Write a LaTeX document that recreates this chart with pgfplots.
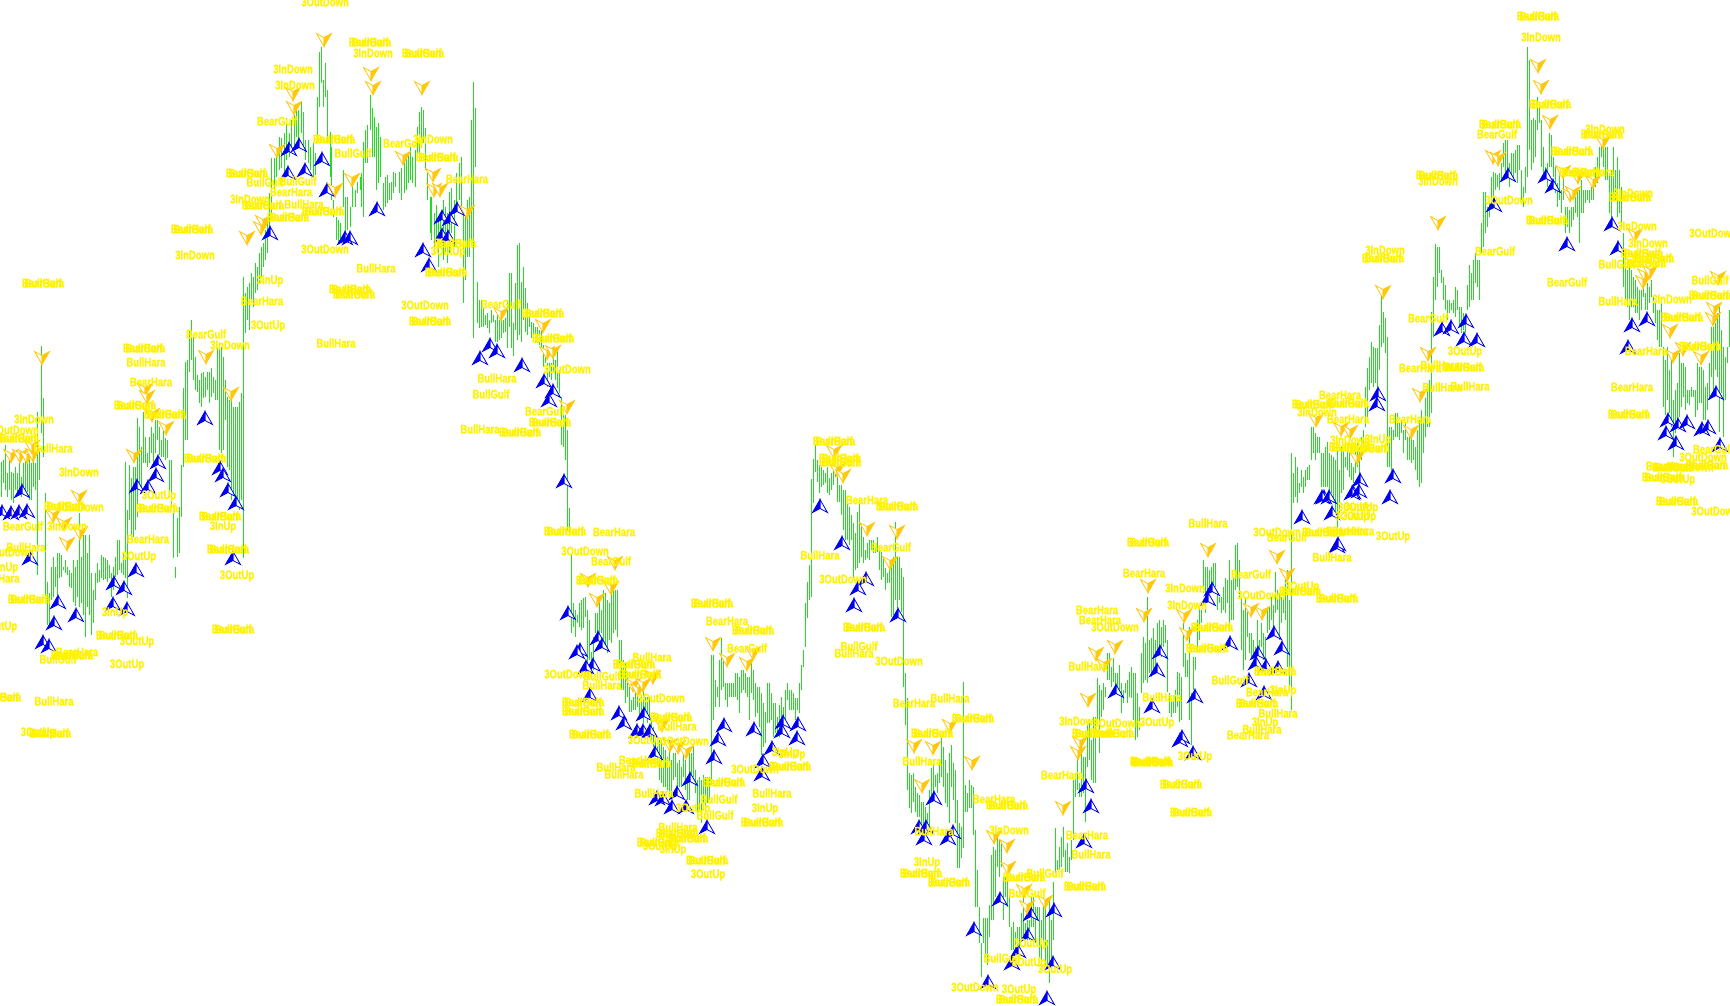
\documentclass[border=0pt]{standalone}
\usepackage{fontspec}
\usepackage{pgfplots}
\usepackage{pgfplotstable}
\pgfplotsset{compat=1.18}
\newfontfamily\labfont[FakeStretch=0.76,FakeBold=1.2]{Liberation Sans Bold}
\definecolor{bargreen}{HTML}{22DD22}
\definecolor{upblue}{HTML}{0000F0}
\definecolor{downorange}{HTML}{FFC80A}

% arrows, 15 x 13 px; one half solid, the other an outline
\pgfdeclareplotmark{upa}{%
  \pgfsetlinewidth{0.8pt}\pgfsetmiterjoin
  \pgfsetstrokecolor{upblue}%
  \pgfsetfillcolor{white}%
  \pgfpathmoveto{\pgfpoint{0pt}{6.5pt}}\pgfpathlineto{\pgfpoint{7.5pt}{-6.5pt}}\pgfpathlineto{\pgfpoint{0pt}{-2.5pt}}\pgfpathclose\pgfusepath{fill,stroke}%
  \pgfsetfillcolor{upblue}%
  \pgfpathmoveto{\pgfpoint{0pt}{6.5pt}}\pgfpathlineto{\pgfpoint{-7.5pt}{-6.5pt}}\pgfpathlineto{\pgfpoint{0pt}{-2.5pt}}\pgfpathclose\pgfusepath{fill,stroke}%
}
\pgfdeclareplotmark{downa}{%
  \pgfsetlinewidth{0.8pt}\pgfsetmiterjoin
  \pgfsetstrokecolor{downorange}%
  \pgfsetfillcolor{white}%
  \pgfpathmoveto{\pgfpoint{0pt}{-6.5pt}}\pgfpathlineto{\pgfpoint{-7.5pt}{6.5pt}}\pgfpathlineto{\pgfpoint{0pt}{2.5pt}}\pgfpathclose\pgfusepath{fill,stroke}%
  \pgfsetfillcolor{downorange}%
  \pgfpathmoveto{\pgfpoint{0pt}{-6.5pt}}\pgfpathlineto{\pgfpoint{7.5pt}{6.5pt}}\pgfpathlineto{\pgfpoint{0pt}{2.5pt}}\pgfpathclose\pgfusepath{fill,stroke}%
}

% high-low bars, read off 3x crops: x top bottom in crop units
\pgfplotstableread[row sep=crcr]{
x t b\\
4 365 470\\10 360 430\\16 315 450\\22 400 470\\28 340 450\\34 395 480\\40 400 490\\46 380 450\\52 400 465\\58 370 450\\
64 410 470\\70 370 440\\76 355 460\\82 345 455\\88 350 480\\94 370 480\\100 350 440\\106 370 450\\112 215 705\\118 330 420\\
124 18 280\\130 175 350\\136 460 780\\142 725 855\\148 760 855\\154 680 780\\160 650 770\\166 680 740\\172 640 765\\178 640 715\\
184 645 710\\190 680 690\\196 660 700\\202 680 705\\208 690 740\\214 700 745\\220 660 785\\226 680 797\\232 660 770\\238 520 800\\
244 650 790\\250 585 825\\256 585 890\\262 640 800\\268 585 825\\274 700 885\\280 750 850\\286 700 780\\292 670 730\\298 690 725\\
304 645 715\\310 650 720\\316 655 718\\322 660 725\\328 675 715\\334 700 770\\340 680 750\\346 650 710\\352 600 705\\358 600 690\\
364 670 700\\370 640 705\\376 365 715\\382 510 775\\388 375 540\\394 415 600\\400 380 590\\406 380 570\\412 235 530\\418 260 430\\
424 320 460\\430 215 370\\436 290 370\\442 340 380\\448 290 370\\454 260 340\\460 280 370\\466 240 340\\472 240 300\\478 260 345\\
484 300 350\\490 260 350\\496 295 360\\502 300 355\\508 360 470\\514 360 505\\520 520 655\\526 680 715\\532 535 650\\538 500 640\\
544 375 530\\550 145 380\\556 65 300\\562 60 300\\568 -30 95\\574 -60 60\\580 -10 120\\586 50 150\\592 105 155\\598 120 190\\
604 100 200\\610 95 175\\616 110 170\\622 95 150\\628 95 190\\634 85 170\\640 110 160\\646 120 180\\652 25 180\\658 15 330\\
664 20 340\\670 50 330\\676 120 240\\682 170 380\\688 180 390\\694 180 480\\700 200 460\\706 200 500\\712 200 500\\718 185 510\\
724 160 480\\730 -190 655\\
}\tA
\pgfplotstableread[row sep=crcr]{
x t b\\
46 880 1000\\52 860 960\\58 850 990\\64 820 900\\70 830 920\\76 790 880\\82 800 870\\88 760 850\\94 740 830\\100 730 800\\
106 690 780\\112 660 760\\118 580 700\\125 475 640\\133 475 570\\140 450 530\\148 410 510\\155 415 505\\163 400 520\\170 355 480\\
178 400 470\\185 360 450\\192 345 440\\198 320 410\\205 330 430\\213 305 400\\220 335 440\\227 420 480\\234 420 490\\242 440 510\\
250 430 530\\256 460 525\\262 290 410\\268 155 320\\275 140 250\\280 240 320\\286 190 290\\293 270 430\\300 395 530\\305 440 600\\
311 600 650\\318 650 720\\325 660 730\\332 670 720\\340 510 620\\346 590 710\\353 590 690\\360 620 680\\367 530 620\\375 570 620\\
382 545 580\\390 530 570\\395 520 620\\401 425 650\\407 390 490\\413 375 490\\420 285 390\\426 325 470\\432 350 470\\438 380 570\\
444 370 550\\450 410 530\\460 550 630\\467 530 620\\472 525 610\\478 550 600\\485 545 600\\490 515 580\\497 520 560\\508 515 580\\
515 505 600\\522 480 580\\528 470 570\\535 455 550\\542 440 540\\548 470 550\\555 450 560\\561 380 470\\568 335 470\\575 320 445\\
580 330 430\\587 385 510\\593 520 600\\600 590 700\\605 590 720\\612 640 760\\620 615 730\\626 650 800\\632 640 720\\640 600 780\\
646 620 760\\652 640 790\\658 575 760\\665 565 700\\672 600 740\\680 520 620\\688 490 600\\695 470 620\\699 640 910\\705 640 840\\
711 600 770\\717 590 770\\723 360 720\\730 245 1014\\737 325 500\\
}\tB
\pgfplotstableread[row sep=crcr]{
x t b\\
232 155 280\\238 210 295\\244 210 290\\250 230 290\\256 255 285\\262 250 295\\268 270 310\\274 240 280\\280 255 275\\286 270 335\\
292 240 335\\298 270 330\\304 270 325\\310 270 310\\316 265 305\\322 210 355\\328 130 290\\334 130 355\\340 280 378\\346 160 300\\
352 45 330\\358 40 315\\364 155 335\\370 110 270\\376 175 305\\382 220 315\\388 260 290\\394 275 325\\400 278 330\\406 290 340\\
412 290 340\\418 300 345\\424 300 355\\430 345 410\\436 370 400\\442 400 470\\448 400 440\\454 400 450\\460 360 430\\466 390 450\\
472 355 475\\478 420 490\\484 500 645\\490 540 650\\496 555 690\\502 600 900\\508 835 909\\
}\tC
\pgfplotstableread[row sep=crcr]{
x t b\\
124 105 340\\130 250 320\\136 270 350\\142 285 310\\148 250 320\\154 240 330\\160 235 325\\166 230 290\\172 270 430\\178 300 420\\
184 395 470\\190 350 450\\196 280 340\\202 280 340\\208 235 350\\214 270 340\\220 210 370\\226 220 380\\232 240 400\\238 250 360\\
244 220 370\\250 210 340\\256 210 330\\262 210 350\\268 360 430\\274 360 510\\280 420 510\\286 430 550\\292 470 530\\298 500 575\\
304 540 575\\310 530 570\\316 520 570\\322 510 560\\328 530 600\\334 530 590\\340 490 610\\346 530 590\\352 530 610\\358 530 600\\
364 600 660\\370 620 680\\376 640 710\\382 650 720\\388 660 780\\394 660 790\\400 680 800\\406 690 800\\412 710 810\\418 660 830\\
424 720 830\\430 700 780\\436 700 770\\442 730 800\\448 720 800\\454 740 800\\460 690 770\\466 720 810\\472 770 840\\478 680 840\\
484 700 770\\490 680 770\\496 750 820\\502 780 880\\508 770 870\\514 780 910\\520 765 870\\526 770 860\\532 770 850\\538 770 840\\
544 405 790\\550 405 600\\556 480 560\\562 500 530\\568 420 560\\574 355 510\\580 420 500\\586 490 540\\592 490 560\\598 490 530\\
604 490 530\\610 490 530\\616 460 530\\622 460 540\\628 470 580\\634 450 520\\640 450 510\\646 460 520\\652 470 530\\658 470 600\\
664 430 520\\670 450 540\\676 490 590\\682 500 580\\688 500 620\\694 520 705\\700 550 680\\706 575 670\\712 490 610\\718 490 610\\
724 520 600\\730 550 650\\736 550 640\\742 590 650\\748 555 650\\754 530 620\\760 560 620\\766 510 600\\772 490 540\\778 510 570\\
784 510 570\\790 520 570\\796 535 600\\802 535 570\\808 490 580\\814 435 510\\820 390 440\\826 250 380\\832 185 295\\838 135 240\\
}\tD
\pgfplotstableread[row sep=crcr]{
x t b\\
94 178 530\\100 118 250\\106 75 155\\112 120 185\\118 135 218\\124 140 200\\130 150 195\\136 160 190\\142 140 220\\148 175 225\\
154 160 210\\160 130 195\\166 125 170\\172 170 245\\178 195 245\\184 195 285\\190 210 330\\196 210 360\\202 250 360\\208 260 375\\
214 285 360\\220 310 475\\226 340 450\\232 275 445\\238 240 430\\244 310 410\\250 350 430\\256 390 420\\262 370 415\\268 360 420\\
274 360 390\\280 360 400\\286 380 400\\292 350 395\\298 390 450\\304 395 480\\310 410 470\\316 445 510\\322 460 490\\328 440 490\\
334 430 590\\340 410 585\\346 305 540\\352 410 565\\358 410 540\\364 445 575\\370 470 800\\
}\tE
\pgfplotstableread[row sep=crcr]{
x t b\\
76 -21 135\\82 55 330\\88 280 385\\94 285 400\\100 280 365\\106 320 395\\112 340 410\\118 345 410\\124 365 440\\130 365 440\\
136 380 440\\142 400 460\\148 330 440\\154 265 350\\160 255 340\\166 285 320\\172 280 340\\178 240 310\\184 175 290\\190 200 320\\
196 240 370\\202 280 380\\208 220 430\\214 195 320\\220 250 360\\226 270 430\\232 360 565\\238 430 565\\244 440 535\\250 5 505\\
256 315 395\\262 340 395\\268 300 385\\274 315 385\\280 320 465\\286 450 680\\292 570 680\\298 680 790\\304 790 890\\310 715 790\\
316 715 830\\322 715 855\\328 675 770\\334 525 720\\340 500 720\\346 510 650\\352 465 560\\358 480 590\\364 490 560\\370 590 720\\
376 590 650\\382 600 680\\388 640 740\\394 740 810\\400 725 810\\406 755 810\\412 740 800\\418 740 800\\424 700 780\\430 640 780\\
436 730 780\\442 720 780\\448 720 780\\454 650 740\\460 650 740\\466 680 790\\472 680 720\\478 680 830\\484 720 840\\490 640 800\\
496 660 860\\502 780 860\\508 650 910\\514 720 860\\520 605 780\\526 445 580\\532 540 570\\538 500 570\\544 470 560\\550 440 530\\
556 510 575\\562 490 575\\568 530 580\\574 480 540\\580 300 480\\586 290 350\\592 235 330\\598 310 350\\604 180 350\\610 230 340\\
616 230 425\\622 130 260\\628 130 240\\634 180 300\\640 110 310\\646 110 310\\
}\tF
\pgfplotstableread[row sep=crcr]{
x t b\\
112 595 720\\118 615 820\\124 630 710\\130 610 690\\136 620 650\\142 520 600\\148 520 600\\154 560 620\\160 535 605\\166 580 620\\
172 580 640\\178 555 630\\184 610 700\\190 630 670\\196 610 640\\202 600 670\\208 575 650\\214 560 655\\220 580 720\\226 580 780\\
232 640 770\\238 680 750\\244 520 640\\250 470 610\\256 490 600\\262 350 610\\268 480 580\\274 475 590\\280 445 570\\286 480 560\\
292 430 510\\298 420 510\\304 440 530\\310 420 500\\316 435 490\\322 480 635\\328 640 700\\334 650 710\\340 660 700\\346 630 700\\
352 575 680\\358 580 725\\364 590 720\\370 430 560\\376 520 590\\382 540 590\\388 440 720\\394 640 795\\400 530 630\\406 530 570\\
412 420 510\\418 385 480\\424 390 430\\430 240 340\\436 260 400\\442 260 370\\448 270 340\\454 260 340\\460 250 320\\466 250 320\\
472 340 390\\478 350 370\\484 350 400\\490 320 390\\496 295 400\\502 300 370\\508 240 450\\514 300 420\\520 290 420\\526 195 330\\
532 190 320\\538 240 350\\544 350 510\\550 390 570\\556 350 540\\562 395 470\\568 460 520\\574 460 530\\580 480 560\\586 500 570\\
592 420 520\\598 480 530\\604 430 500\\610 460 540\\616 470 560\\622 380 460\\628 380 450\\634 350 420\\640 375 450\\646 275 400\\
652 330 390\\658 340 480\\664 350 430\\670 340 400\\676 300 420\\682 270 560\\688 360 630\\
}\tG
\pgfplotstableread[row sep=crcr]{
x t b\\
34 700 1470\\40 760 850\\46 710 830\\52 740 850\\58 790 820\\64 750 800\\70 770 820\\76 750 800\\82 740 780\\88 735 780\\
94 620 720\\100 620 700\\106 640 720\\112 650 700\\118 650 700\\124 700 800\\130 700 800\\136 680 800\\142 665 800\\148 700 830\\
154 705 820\\160 710 850\\166 720 880\\172 690 925\\178 750 880\\184 680 820\\190 690 810\\196 710 740\\202 690 750\\208 700 770\\
214 730 780\\220 740 790\\226 680 760\\232 670 740\\238 680 780\\244 650 720\\250 630 690\\256 500 620\\262 445 600\\268 410 510\\
274 365 490\\280 380 500\\286 385 490\\292 385 500\\298 315 450\\304 225 380\\310 275 370\\316 295 400\\322 350 740\\328 620 740\\
334 620 770\\340 630 660\\346 580 650\\352 580 650\\358 610 660\\364 600 640\\370 630 700\\376 610 660\\382 650 720\\388 650 720\\
394 650 730\\400 660 720\\406 680 750\\412 630 780\\418 600 800\\424 570 790\\430 600 700\\436 535 650\\442 490 620\\448 480 620\\
454 275 580\\460 170 350\\466 72 240\\472 80 200\\478 80 160\\484 150 190\\490 170 240\\496 195 270\\502 240 300\\508 240 280\\
514 250 270\\520 240 280\\526 200 290\\532 210 270\\538 260 320\\544 260 340\\550 280 330\\556 290 340\\562 195 270\\568 135 260\\
574 160 240\\580 120 240\\586 100 190\\592 120 200\\
}\tH
\pgfplotstableread[row sep=crcr]{
x t b\\
238 780 900\\244 670 760\\250 575 740\\256 575 700\\262 620 680\\268 610 650\\274 530 600\\280 515 590\\286 520 570\\292 525 560\\
298 520 570\\304 490 545\\310 430 500\\316 420 520\\322 420 530\\328 490 560\\334 460 540\\340 460 540\\346 450 520\\352 435 550\\
358 435 510\\364 510 600\\370 560 620\\376 500 580\\382 140 530\\388 180 450\\394 360 510\\400 355 490\\406 360 470\\412 290 390\\
418 325 370\\424 360 500\\430 440 520\\436 500 530\\442 490 560\\448 400 500\\454 405 500\\460 470 530\\466 500 580\\472 550 620\\
478 520 600\\484 570 640\\490 530 600\\496 620 700\\502 620 680\\508 630 700\\514 620 680\\520 620 660\\526 590 640\\532 570 650\\
538 570 730\\544 540 640\\550 570 640\\556 570 610\\562 570 600\\568 570 610\\574 560 600\\580 560 600\\586 500 560\\592 470 550\\
598 440 520\\604 420 470\\610 420 500\\616 440 540\\622 440 540\\628 520 640\\634 510 650\\640 440 600\\646 510 600\\652 470 650\\
658 510 640\\664 560 680\\670 700 860\\
}\tI
\pgfplotstableread[row sep=crcr]{
x t b\\
196 70 210\\202 120 230\\208 100 270\\214 120 230\\220 140 230\\226 150 250\\232 170 250\\238 180 270\\244 180 240\\250 150 200\\
256 190 240\\262 160 240\\268 170 220\\274 150 200\\280 200 250\\286 220 280\\292 240 330\\298 240 350\\304 220 350\\310 350 530\\
316 390 555\\322 350 510\\328 420 550\\334 390 590\\340 510 680\\346 480 610\\352 460 590\\358 370 560\\364 400 530\\370 400 500\\
376 410 540\\382 480 520\\388 480 525\\394 470 500\\400 480 500\\406 480 560\\412 400 540\\418 410 520\\424 410 520\\430 420 570\\
436 470 570\\442 460 540\\448 400 510\\454 290 440\\460 290 500\\466 280 420\\472 250 440\\478 230 605\\484 300 490\\490 350 620\\
496 380 510\\502 350 400\\508 240 350\\
}\tJ

% single labels, pixel centres
\pgfplotstableread[row sep=crcr]{
x y t\\
146 362 BullHara\\151 382 BearHara\\34 419 3InDown\\15 430 3OutDown\\53 448 BullHara\\79 472 3InDown\\159 496 3OutUp\\80 507 3OutDown\\
23 526 BearGulf\\67 526 3InDown\\148 539 BearHara\\223 527 3InUp\\26 547 BullHara\\10 552 3OutDown\\139 557 3OutUp\\237 576 3OutUp\\
5 568 3InUp\\0 578 BullHara\\0 627 3OutUp\\137 642 3OutUp\\77 652 BearHara\\58 659 BullGulf\\127 665 3OutUp\\115 613 3InUp\\
54 701 BullHara\\38 733 3OutUp\\325 2 3OutDown\\373 53 3InDown\\293 69 3InDown\\295 85 3InDown\\277 121 BearGulf\\353 153 BullGulf\\
403 143 BearGulf\\433 139 3InDown\\467 179 BearHara\\265 182 BullGulf\\298 181 BullGulf\\291 192 BearHara\\250 199 3InDown\\304 204 BullHara\\
448 252 3OutUp\\425 305 3OutDown\\501 304 BearGulf\\567 369 3OutDown\\497 378 BullHara\\491 394 BullGulf\\545 411 BearGulf\\480 429 BullHara\\
325 249 3OutDown\\376 268 BullHara\\336 343 BullHara\\270 281 3InUp\\262 301 BearHara\\268 326 3OutUp\\206 334 BearGulf\\230 345 3InDown\\195 255 3InDown\\
614 532 BearHara\\585 551 3OutDown\\611 561 BearGulf\\727 621 BearHara\\747 648 BearGulf\\652 657 BullHara\\568 674 3OutDown\\602 676 BullGulf\\
602 685 BullHara\\661 698 3OutDown\\677 726 BullHara\\645 741 3OutUp\\685 741 3OutDown\\640 760 BearHara\\616 767 BullHara\\624 774 BullHara\\
755 769 3OutDown\\792 755 3InUp\\785 753 3InUp\\654 793 BullHara\\772 793 BullHara\\719 799 BullGulf\\693 809 3OutUp\\765 809 3InUp\\
715 815 BullGulf\\678 827 BullHara\\660 847 3OutUp\\673 850 3InUp\\708 875 3OutUp\\820 555 BullHara\\843 579 3OutDown\\867 500 BearHara\\
891 547 BearGulf\\859 646 BullGulf\\854 653 BullHara\\899 661 3OutDown\\914 703 BearHara\\950 698 BullHara\\922 761 BullHara\\994 799 BearHara\\
1009 830 3InDown\\934 831 BullHara\\927 863 3InUp\\1045 873 BullGulf\\1027 893 BullGulf\\1087 835 BearHara\\1091 854 BullHara\\1062 775 BearHara\\
1079 721 3InDown\\1117 723 3OutDown\\1157 723 3OutUp\\1162 697 BullHara\\1031 944 3OutUp\\1002 958 BullGulf\\1029 963 3OutUp\\1055 970 3OutUp\\
975 987 3OutDown\\1019 990 3OutUp\\1208 523 BullHara\\1144 573 BearHara\\1185 588 3InDown\\1187 605 3InDown\\1097 610 BearHara\\1100 620 BearHara\\
1115 627 3OutDown\\1088 666 BullHara\\1251 574 BearGulf\\1261 595 3OutDown\\1302 587 3OutUp\\1277 532 3OutDown\\1287 537 BearGulf\\1347 531 BearHara\\
1355 508 3OutUp\\1352 517 3OutUp\\1332 557 BullHara\\1230 680 BullGulf\\1267 692 BearHara\\1283 691 3InUp\\1278 713 BullHara\\1265 723 3InUp\\
1262 729 BullHara\\1248 735 BearHara\\1195 757 3OutUp\\1385 250 3InDown\\1428 318 BearGulf\\1465 352 3OutUp\\1440 365 BullHara\\1420 368 BearHara\\
1442 387 BullHara\\1470 386 BullHara\\1340 395 BearHara\\1317 412 3InDown\\1348 419 BearHara\\1410 419 BearHara\\1350 440 3InDown\\1378 440 3InUp\\
1361 508 3OutUp\\1359 517 3OutUp\\1353 531 BearHara\\1393 537 3OutUp\\1541 37 3InDown\\1497 134 BearGulf\\1438 181 3InDown\\1605 129 3InDown\\
1509 200 3OutDown\\1593 172 BearHara\\1633 193 3InDown\\1637 226 3InDown\\1648 243 3InDown\\1713 233 3OutDown\\1495 251 BearGulf\\1617 264 BullGulf\\
1567 282 BearGulf\\1710 280 BullGulf\\1672 299 3InDown\\1618 301 BullHara\\1646 351 BearHara\\1632 387 BearHara\\1713 449 BearGulf\\1703 457 3OutDown\\
1667 466 BearHara\\1690 467 3OutDown\\1678 480 3OutUp\\1715 511 3OutDown\\
}\tSingle
% places where two labels lie on top of each other
\pgfplotstableread[row sep=crcr]{
x y\\
144 348\\135 405\\165 414\\18 438\\205 458\\157 508\\65 506\\220 516\\228 549\\29 599\\233 629\\117 635\\72 655\\0 697\\50 733\\
370 42\\423 53\\334 139\\437 157\\247 173\\263 205\\323 211\\288 217\\455 243\\446 272\\430 321\\543 313\\553 338\\550 422\\520 432\\
350 289\\354 294\\192 229\\43 283\\565 531\\597 580\\712 603\\753 630\\634 664\\640 674\\583 702\\583 711\\671 717\\590 734\\650 763\\
790 766\\724 782\\762 822\\677 833\\687 838\\658 842\\707 860\\834 441\\840 458\\840 462\\897 506\\864 627\\973 718\\932 733\\1007 805\\921 873\\
949 882\\1024 877\\1085 886\\1093 733\\1113 733\\1152 762\\1181 784\\1191 812\\1017 999\\1148 542\\1212 627\\1207 648\\1300 591\\1337 598\\1323 532\\
1275 671\\1257 703\\1151 761\\1383 258\\1463 367\\1313 404\\1348 403\\1368 448\\1350 447\\1538 16\\1500 124\\1550 104\\1437 175\\1602 134\\1572 151\\
1580 172\\1547 220\\1630 197\\1642 253\\1653 258\\1645 263\\1710 295\\1682 317\\1700 346\\1629 414\\1707 465\\1673 467\\1663 477\\1677 501\\
}\tBlob

\newcommand{\bars}[3]{\addplot[draw=none,forget plot,
    error bars/.cd,y dir=plus,y explicit,error mark=none,
    error bar style={draw=bargreen,line width=1pt}]
  table[x expr=#1+\thisrow{x}/3,y expr=#2+\thisrow{t}/3,y error expr=(\thisrow{b}-\thisrow{t})/3] {#3};}

\begin{document}
\begin{tikzpicture}
\useasboundingbox (0,0) rectangle (1730pt,1005pt);
\begin{axis}[
    at={(0,0)},anchor=south west,
    width=1730pt,height=1005pt,scale only axis,
    xmin=0,xmax=1730,ymin=0,ymax=1005,y dir=reverse,
    hide axis,clip=false,
    nodes near coords style={font=\fontsize{12.5}{12.5}\labfont,text=yellow,anchor=center,inner sep=0pt,outer sep=0pt},
    ]
\bars{0}{340}{\tA}
\bars{230}{0}{\tB}
\bars{400}{230}{\tC}
\bars{530}{520}{\tD}
\bars{780}{420}{\tE}
\bars{880}{680}{\tF}
\bars{1060}{480}{\tG}
\bars{1280}{220}{\tH}
\bars{1400}{0}{\tI}
\bars{1560}{230}{\tJ}
\addplot[only marks,mark=upa] coordinates {
(22,491)(2,512)(11,513)(19,512)(27,511)(30,558)(158,462)(156,475)(137,486)(148,487)(136,570)(205,418)(220,468)(223,475)(228,490)(236,503)(233,558)
(58,602)(54,623)(76,615)(43,642)(49,646)(114,583)(124,588)(113,604)(127,609)
(289,149)(299,145)(288,173)(305,170)(322,159)(327,190)(270,233)(377,209)(345,238)(350,238)(442,217)(450,219)(457,209)(442,235)(448,237)
(423,250)(429,265)(490,345)(497,351)(480,358)(522,365)(544,381)(553,391)(549,400)(564,481)
(568,613)(580,650)(577,652)(598,638)(602,645)(593,665)(586,667)(590,695)(619,713)(624,723)(637,731)(643,731)(650,731)(644,714)(655,753)(724,725)(718,739)(714,757)(690,779)(754,729)(677,793)(657,798)(663,799)(672,807)(686,807)(707,827)(783,722)(782,731)(798,724)(797,738)(772,748)(763,761)(762,774)
(820,506)(842,543)(866,579)(858,588)(854,605)(898,615)
(934,798)(919,827)(926,827)(924,838)(948,838)(953,832)(974,929)(1000,899)(988,982)(1018,951)(1012,963)(1028,935)(1031,914)(1054,910)(1053,963)(1047,998)(1086,786)(1091,806)(1084,841)(1116,691)(1152,706)(1180,740)
(1160,652)(1157,670)(1195,696)(1182,737)(1193,753)(1212,589)(1208,599)(1230,643)(1274,633)(1282,648)(1258,653)(1256,663)(1266,666)(1278,668)(1249,680)(1264,693)(1324,497)(1302,517)(1332,513)(1353,492)(1337,546)
(1378,394)(1377,404)(1360,480)(1393,476)(1352,493)(1359,491)(1390,497)(1322,497)(1329,497)(1338,544)(1442,329)(1451,327)(1466,321)(1464,339)(1477,340)
(1508,175)(1494,205)(1546,176)(1553,186)(1567,244)(1612,224)(1618,248)
(1632,325)(1647,319)(1628,347)(1668,420)(1678,425)(1687,422)(1666,433)(1676,443)(1702,429)(1708,427)(1716,393)(1720,445)
};
\addplot[only marks,mark=downa] coordinates {
(42,358)(11,456)(20,456)(27,457)(33,455)(32,447)(145,390)(147,397)(152,415)(166,428)(134,456)(79,497)(53,516)(64,524)(80,533)(67,544)(206,357)(231,394)
(324,40)(371,74)(373,88)(422,88)(293,94)(294,108)(277,151)(403,158)(352,180)(335,190)(433,175)(434,190)(440,190)(467,212)(263,222)(261,228)(247,238)
(501,314)(543,326)(547,353)(553,352)(567,407)
(615,563)(588,580)(611,588)(597,600)(633,685)(638,690)(643,685)(653,677)(662,725)(670,745)(678,747)(686,752)(713,644)(727,660)(747,664)(753,653)
(834,452)(837,470)(843,476)(867,529)(897,532)(890,563)(950,726)(914,746)(933,748)
(972,763)(922,786)(994,837)(1007,846)(1008,868)(1024,891)(1027,907)(1045,902)(1063,808)(1088,700)(1080,743)(1078,753)
(1096,654)(1115,647)(1104,665)(1148,586)(1144,615)(1184,616)(1187,634)(1208,550)(1277,557)(1287,575)(1251,610)(1262,613)
(1383,292)(1428,354)(1420,395)(1411,432)(1316,420)(1341,429)(1350,432)(1357,458)(1438,223)
(1493,157)(1498,159)(1538,66)(1541,87)(1550,122)(1603,142)(1563,172)(1578,177)(1593,182)(1570,195)(1573,193)
(1635,235)(1645,275)(1643,282)(1650,272)(1670,331)(1673,356)(1683,349)(1701,358)(1714,309)(1713,319)(1718,278)
};
\addplot[draw=none,point meta=explicit symbolic,nodes near coords] table[x=x,y=y,meta=t] {\tSingle};
\addplot[draw=none,nodes near coords={BearHara}] table[x=x,y=y] {\tBlob};
\addplot[draw=none,nodes near coords={BullGulf}] table[x=x,y=y] {\tBlob};
\end{axis}
\end{tikzpicture}
\end{document}
